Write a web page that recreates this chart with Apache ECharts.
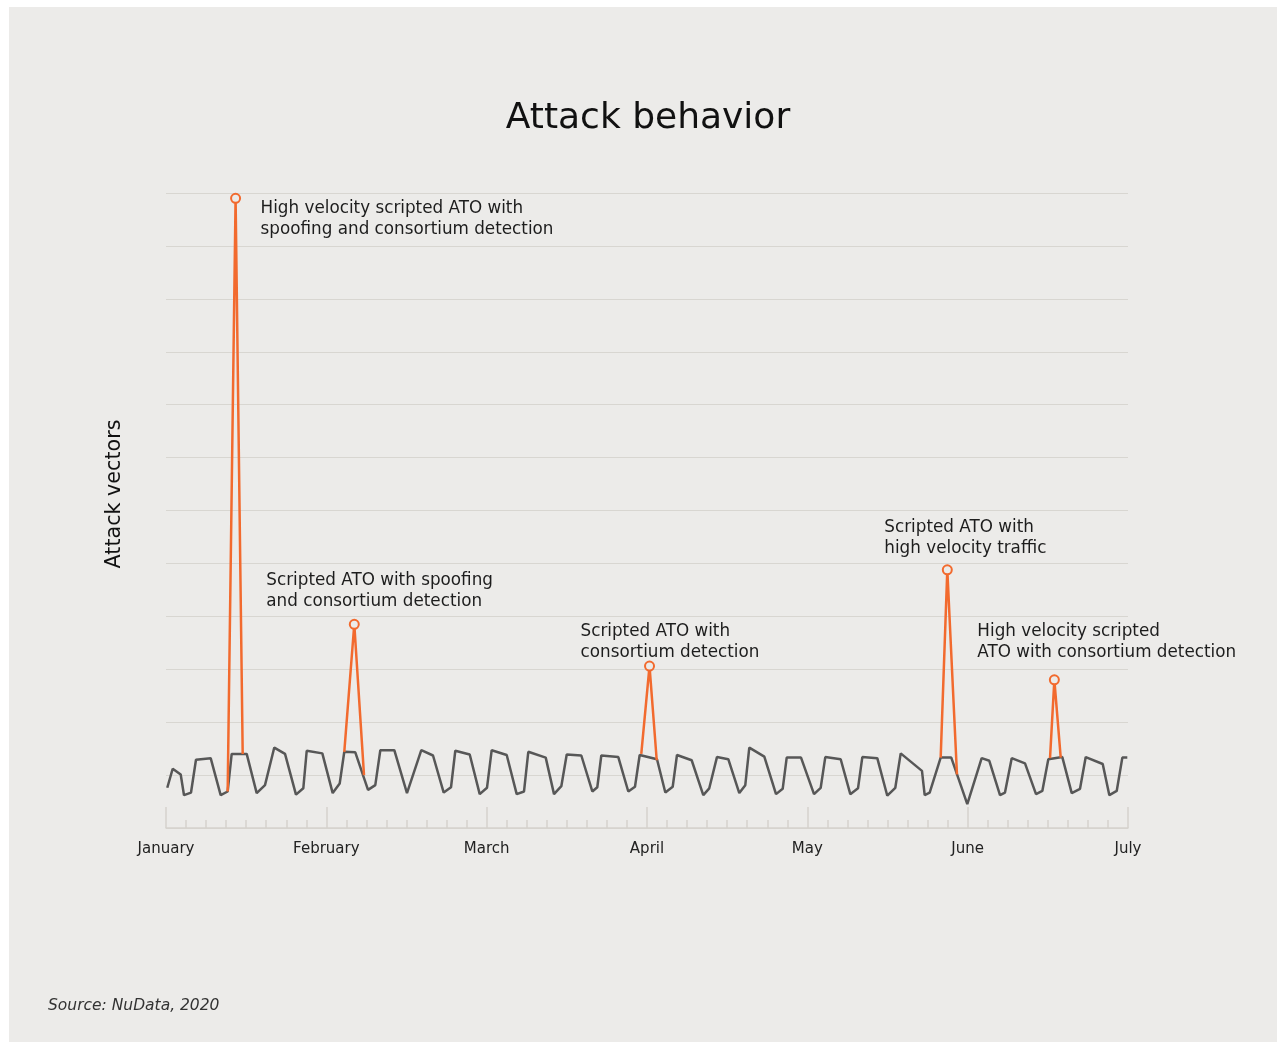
<!DOCTYPE html>
<html>
<head>
<meta charset="utf-8">
<title>Attack behavior</title>
<script src="https://cdn.jsdelivr.net/npm/echarts@6/dist/echarts.min.js"></script>
<style>
  html, body { margin: 0; padding: 0; background: #ffffff; }
  #panel { position: absolute; left: 9px; top: 7px; width: 1268px; height: 1035px; background: #ECEBE9; }
  #chart { position: absolute; left: 0; top: 0; width: 1282px; height: 1042px; }
</style>
</head>
<body>
<div id="panel"></div>
<div id="chart"></div>
<script>
// Month names on the x axis (one every 30 days of the day scale)
const monthLabels = ['January', 'February', 'March', 'April', 'May', 'June', 'July'];

// Baseline activity: [day, attack vectors]
const baselinePoints = [
  [0.24, 7.6], [1.25, 11.2], [2.75, 10.1], [3.37, 6.2], [4.68, 6.7], [5.61, 12.9], [8.36, 13.2],
  [10.23, 6.2], [11.54, 6.9], [12.29, 14.0], [15.10, 14.0], [16.97, 6.6], [18.52, 8.1], [20.26, 15.2],
  [22.27, 14.0], [24.32, 6.3], [25.69, 7.5], [26.33, 14.6], [29.25, 14.1], [31.19, 6.6], [32.50, 8.4],
  [33.36, 14.4], [35.42, 14.3], [37.80, 7.2], [39.16, 8.1], [40.10, 14.7], [42.72, 14.7], [45.09, 6.6],
  [47.77, 14.7], [49.96, 13.7], [51.96, 6.7], [53.33, 7.7], [54.13, 14.6], [56.83, 13.9], [58.70, 6.4],
  [60.06, 7.6], [60.94, 14.7], [63.75, 13.8], [65.62, 6.4], [66.99, 6.9], [67.79, 14.4], [71.05, 13.3],
  [72.60, 6.4], [73.97, 7.9], [74.98, 13.9], [77.71, 13.7], [79.77, 6.9], [80.70, 7.7], [81.45, 13.7],
  [84.63, 13.4], [86.50, 6.9], [87.75, 7.8], [88.63, 13.8], [91.87, 13.0], [93.43, 6.7], [94.81, 7.8],
  [95.61, 13.8], [98.36, 12.8], [100.53, 6.2], [101.65, 7.5], [103.09, 13.4], [105.21, 13.0], [107.27, 6.6],
  [108.39, 8.1], [109.14, 15.2], [111.95, 13.5], [114.14, 6.4], [115.39, 7.4], [116.14, 13.3], [118.82, 13.3],
  [121.25, 6.4], [122.50, 7.6], [123.36, 13.4], [126.24, 13.0], [128.04, 6.4], [129.48, 7.5], [130.29, 13.4],
  [133.09, 13.2], [134.96, 6.1], [136.46, 7.6], [137.47, 14.1], [141.45, 10.8], [141.96, 6.2], [142.89, 6.7],
  [144.95, 13.3], [146.93, 13.3], [149.93, 4.5], [152.62, 13.2], [154.05, 12.7], [156.05, 6.2], [156.98, 6.7],
  [158.24, 13.2], [160.73, 12.2], [162.79, 6.4], [163.97, 7.0], [165.09, 13.0], [167.71, 13.4], [169.47, 6.6],
  [171.02, 7.4], [172.09, 13.4], [175.27, 12.1], [176.51, 6.2], [177.89, 7.0], [178.94, 13.3], [179.87, 13.3]
];

// Attack spikes: start, peak and end of each burst
const spikeStart = [[11.54, 6.9], [33.36, 14.4], [88.93, 14.0], [144.95, 13.3], [165.41, 13.2]];
const spikePeak  = [[13.02, 119.0], [35.23, 38.5], [90.47, 30.6], [146.19, 48.8], [166.22, 28.0]];
const spikeEnd   = [[14.35, 14.0], [37.05, 10.0], [91.82, 12.8], [148.00, 10.1], [167.41, 13.3]];
const spikeNames = [
  'High velocity scripted ATO with\nspoofing and consortium detection',
  'Scripted ATO with spoofing\nand consortium detection',
  'Scripted ATO with\nconsortium detection',
  'Scripted ATO with\nhigh velocity traffic',
  'High velocity scripted\nATO with consortium detection'
];

// Where each annotation sits relative to its peak marker
const labelPlacement = [
  { verticalAlign: 'top', offset: [25, 0] },
  { verticalAlign: 'bottom', offset: [-88, -12] },
  { verticalAlign: 'bottom', offset: [-69, -3] },
  { verticalAlign: 'bottom', offset: [-63, -11] },
  { verticalAlign: 'bottom', offset: [-77, -17] }
];

const FONT = '"DejaVu Sans", "Noto Sans", sans-serif';
const ORANGE = '#F26a2e';

const spikeSeries = spikePeak.map((peak, i) => ({
  type: 'line',
  z: 3,
  silent: true,
  animation: false,
  lineStyle: { color: ORANGE, width: 2.5 },
  itemStyle: { color: '#ECEBE9', borderColor: ORANGE, borderWidth: 2 },
  symbol: 'circle',
  symbolSize: 9,
  showSymbol: true,
  data: [
    { value: spikeStart[i], symbol: 'none' },
    {
      value: peak,
      label: {
        show: true,
        position: 'inside',
        formatter: spikeNames[i],
        align: 'left',
        verticalAlign: labelPlacement[i].verticalAlign,
        offset: labelPlacement[i].offset,
        fontFamily: FONT,
        fontSize: 16.8,
        lineHeight: 21,
        color: '#1d1d1d'
      }
    },
    { value: spikeEnd[i], symbol: 'none' }
  ]
}));

const chart = echarts.init(document.getElementById('chart'), null, { renderer: 'canvas' });
chart.setOption({
  backgroundColor: 'transparent',
  animation: false,
  title: {
    text: 'Attack behavior',
    left: 643,
    textAlign: 'center',
    top: 96,
    textStyle: { fontFamily: FONT, fontSize: 36, fontWeight: 400, color: '#111111' }
  },
  grid: { left: 166, right: 154, top: 193, bottom: 214 },
  xAxis: {
    type: 'value',
    min: 0,
    max: 180,
    interval: 30,
    axisLine: { show: true, lineStyle: { color: '#D5D2CD', width: 1.5 } },
    axisTick: { show: true, inside: true, length: 21, lineStyle: { color: '#D5D2CD', width: 1.5 } },
    minorTick: { show: true, splitNumber: 8, length: 8, lineStyle: { color: '#D5D2CD', width: 1.5 } },
    splitLine: { show: false },
    axisLabel: {
      margin: 14,
      fontFamily: FONT,
      fontSize: 15,
      color: '#222222',
      formatter: v => monthLabels[Math.round(v / 30)]
    }
  },
  yAxis: {
    type: 'value',
    min: 0,
    max: 120,
    interval: 10,
    axisLine: { show: false },
    axisTick: { show: false },
    axisLabel: { show: false },
    splitLine: { show: true, lineStyle: { color: '#D8D6D1', width: 1.2 } }
  },
  graphic: [
    {
      type: 'text',
      x: 115,
      y: 494,
      rotation: Math.PI / 2,
      style: {
        text: 'Attack vectors',
        fontFamily: FONT,
        fontSize: 20.7,
        fill: '#111111',
        align: 'center',
        verticalAlign: 'middle'
      }
    },
    {
      type: 'text',
      x: 48,
      y: 1006,
      style: {
        text: 'Source: NuData, 2020',
        fontFamily: FONT,
        fontStyle: 'italic',
        fontSize: 15.5,
        fill: '#333333',
        align: 'left',
        verticalAlign: 'middle'
      }
    }
  ],
  series: [
    {
      type: 'line',
      z: 2,
      silent: true,
      showSymbol: false,
      symbol: 'none',
      lineStyle: { color: '#575757', width: 2.5 },
      data: baselinePoints
    }
  ].concat(spikeSeries)
});
</script>
</body>
</html>
